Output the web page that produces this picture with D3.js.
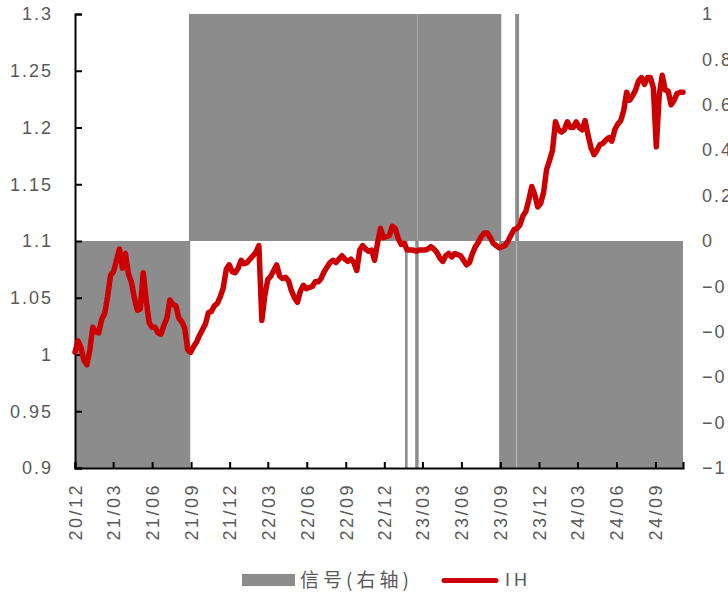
<!DOCTYPE html>
<html>
<head>
<meta charset="utf-8">
<script src="https://cdn.jsdelivr.net/npm/d3@7"></script>
<style>
  html, body { margin: 0; padding: 0; background: #fff; }
  svg { display: block; }
</style>
</head>
<body>
<svg id="chart" width="728" height="593"></svg>
<script>
// ---------- data ----------
const startDate = "2020-12-01";   // first weekly observation
const ihValues = [
  1.002,1.012,1.006,0.995,0.991,1.004,1.024,1.020,1.019,1.031,
  1.036,1.051,1.070,1.073,1.083,1.093,1.076,1.089,1.071,1.064,
  1.050,1.039,1.040,1.072,1.048,1.028,1.024,1.024,1.019,1.018,
  1.026,1.032,1.048,1.044,1.043,1.032,1.029,1.023,1.004,1.002,
  1.007,1.011,1.017,1.022,1.027,1.037,1.038,1.043,1.045,1.051,
  1.059,1.075,1.079,1.073,1.072,1.076,1.083,1.080,1.081,1.084,
  1.087,1.090,1.096,1.030,1.052,1.066,1.069,1.074,1.079,1.069,
  1.067,1.068,1.065,1.056,1.050,1.046,1.056,1.061,1.058,1.059,
  1.060,1.064,1.064,1.067,1.073,1.077,1.081,1.083,1.081,1.084,
  1.087,1.084,1.082,1.084,1.081,1.074,1.092,1.096,1.093,1.091,
  1.092,1.083,1.098,1.111,1.103,1.104,1.105,1.113,1.111,1.102,
  1.097,1.098,1.092,1.092,1.092,1.091,1.092,1.092,1.092,1.093,
  1.095,1.093,1.090,1.085,1.082,1.087,1.089,1.086,1.089,1.088,
  1.087,1.083,1.079,1.081,1.089,1.095,1.099,1.104,1.107,1.107,
  1.103,1.098,1.096,1.094,1.095,1.096,1.100,1.105,1.110,1.111,
  1.114,1.122,1.126,1.136,1.148,1.141,1.130,1.133,1.143,1.163,
  1.171,1.180,1.205,1.198,1.196,1.198,1.205,1.200,1.200,1.205,
  1.200,1.198,1.206,1.193,1.182,1.176,1.180,1.185,1.186,1.189,
  1.191,1.188,1.198,1.203,1.206,1.215,1.231,1.224,1.228,1.233,
  1.241,1.244,1.238,1.244,1.244,1.235,1.183,1.229,1.246,1.233,
  1.232,1.220,1.224,1.230,1.231,1.231
];
// signal (right axis): runs of identical values [start, end, value]
const signalStart = ["2020-12-01","2021-08-30","2023-01-22","2023-01-23","2023-02-15","2023-02-20","2023-09-01","2023-10-09","2023-10-13"];
const signalEnd   = ["2021-08-27","2023-01-21","2023-01-22","2023-02-14","2023-02-17","2023-08-31","2023-10-06","2023-10-12","2024-11-05"];
const signalValue = [-1, 1, -1, 1, -1, 1, -1, 1, -1];

const xTickDates = ["2020-12-01","2021-03-01","2021-06-01","2021-09-01","2021-12-01","2022-03-01","2022-06-01","2022-09-01","2022-12-01","2023-03-01","2023-06-01","2023-09-01","2023-12-01","2024-03-01","2024-06-01","2024-09-01"];
const leftTicks  = [0.9, 0.95, 1, 1.05, 1.1, 1.15, 1.2, 1.25, 1.3];
const rightTicks = [-1, -0.8, -0.6, -0.4, -0.2, 0, 0.2, 0.4, 0.6, 0.8, 1];
const legendLabels = ["信号(右轴)", "IH"];

// ---------- setup ----------
const parse = d3.timeParse("%Y-%m-%d");
const t0 = parse(startDate);
const ihData = ihValues.map((v, i) => ({ date: d3.timeDay.offset(t0, 7 * i), value: v }));
const signal = signalValue.map((v, i) => ({ start: parse(signalStart[i]), end: parse(signalEnd[i]), value: v }));

const M = { left: 75, right: 683, top: 14, bottom: 468 };
const GRAY = "#8c8c8c", RED = "#cc0000", TXT = "#595959";
const svg = d3.select("#chart");

const x = d3.scaleTime()
  .domain([t0, ihData[ihData.length - 1].date])
  .range([M.left, M.right]);
const y = d3.scaleLinear().domain([0.9, 1.3]).range([M.bottom, M.top]);
const y2 = d3.scaleLinear().domain([-1, 1]).range([M.bottom, M.top]);

svg.append("defs").append("clipPath").attr("id", "plotclip")
  .append("rect")
  .attr("x", M.left).attr("y", M.top - 2)
  .attr("width", M.right - M.left).attr("height", M.bottom - M.top + 4);

// ---------- signal bars ----------
const pad = 1.3;
svg.append("g").attr("clip-path", "url(#plotclip)")
  .selectAll("rect").data(signal).join("rect")
  .attr("x", d => x(d.start) - pad)
  .attr("width", d => x(d.end) - x(d.start) + 2 * pad)
  .attr("y", d => Math.min(y2(0), y2(d.value)))
  .attr("height", d => Math.abs(y2(d.value) - y2(0)))
  .attr("fill", GRAY);

// ---------- axes ----------
const fontNum = "'Liberation Sans', Arial, sans-serif";

// left axis
const gl = svg.append("g").attr("transform", `translate(${M.left},0)`)
  .call(d3.axisLeft(y).tickValues(leftTicks).tickSize(-7).tickPadding(22)
    .tickFormat(d3.format("~g")));
gl.select(".domain").attr("stroke", "#000").attr("stroke-width", 2);
gl.selectAll(".tick line").attr("stroke", "#000").attr("stroke-width", 2);
gl.selectAll(".tick text").attr("fill", TXT)
  .style("font-family", fontNum).style("font-size", "18px").style("letter-spacing", "2px");

// right axis (labels only)
const gr = svg.append("g").attr("transform", `translate(${M.right},0)`)
  .call(d3.axisRight(y2).tickValues(rightTicks).tickSize(0).tickPadding(19)
    .tickFormat(d => d3.format("~g")(d).replace("-", "\u2212")));
gr.select(".domain").remove();
gr.selectAll(".tick text").attr("fill", TXT)
  .style("font-family", fontNum).style("font-size", "18px").style("letter-spacing", "2px");

// bottom axis
const gb = svg.append("g").attr("transform", `translate(0,${M.bottom})`)
  .call(d3.axisBottom(x).tickValues(xTickDates.map(parse)).tickSize(-6).tickFormat(d3.timeFormat("%y/%m")));
gb.select(".domain").attr("stroke", "#000").attr("stroke-width", 2);
gb.selectAll(".tick line").attr("stroke", "#000").attr("stroke-width", 2);
gb.selectAll(".tick text")
  .attr("fill", TXT)
  .attr("transform", "rotate(-90)")
  .attr("text-anchor", "end")
  .attr("x", -15).attr("y", 0).attr("dy", "0.35em")
  .style("font-family", fontNum).style("font-size", "18px").style("letter-spacing", "2.5px");

// ---------- IH line ----------
svg.append("path")
  .datum(ihData)
  .attr("fill", "none")
  .attr("stroke", RED)
  .attr("stroke-width", 5.5)
  .attr("stroke-linejoin", "round")
  .attr("stroke-linecap", "round")
  .attr("d", d3.line().x(d => x(d.date)).y(d => y(d.value)));

// ---------- legend ----------
const lg = svg.append("g");
lg.append("rect").attr("x", 242).attr("y", 574).attr("width", 53).attr("height", 12).attr("fill", GRAY);
lg.append("text").attr("x", 300).attr("y", 580).attr("dy", "0.35em")
  .attr("fill", TXT).style("font-family", "'Noto Sans CJK SC', sans-serif")
  .style("font-size", "19px").style("letter-spacing", "4px").text(legendLabels[0]);
lg.append("line").attr("x1", 444).attr("x2", 496).attr("y1", 580.5).attr("y2", 580.5)
  .attr("stroke", RED).attr("stroke-width", 5).attr("stroke-linecap", "round");
lg.append("text").attr("x", 505).attr("y", 580).attr("dy", "0.35em")
  .attr("fill", TXT).style("font-family", fontNum)
  .style("font-size", "18px").style("letter-spacing", "4px").text(legendLabels[1]);
</script>
</body>
</html>
